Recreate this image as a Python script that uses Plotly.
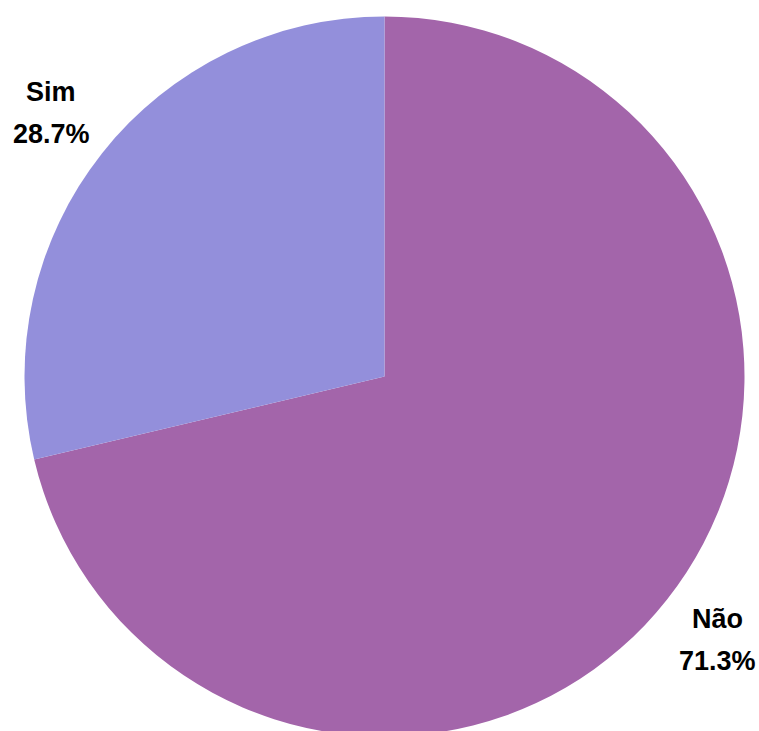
import numpy as np
import plotly.graph_objects as go

labels = ["Não", "Sim"]
values = [71.3, 28.7]
colors = ["#a365aa", "#938fdb"]

W, H = 759, 742  # a little taller than the window: the pie runs off the bottom edge
CX, CY, R = 384.5, 376.5, 360.0  # pie centre and radius, px from top-left
LABEL_R = 1.18 * R  # labels sit outside the pie, at each slice's middle angle

fig = go.Figure(data=go.Pie(
        labels=labels,
        values=values,
        sort=False,
        direction="clockwise",
        rotation=0,
        marker=dict(colors=colors, line=dict(width=0)),
        textinfo="none",
        hoverinfo="label+percent",
        domain=dict(x=[(CX - R) / W, (CX + R) / W],
                    y=[(H - CY - R) / H, (H - CY + R) / H])))

# outside labels, placed at the middle angle of every slice
total = sum(values)
start = 0.0
for lab, val in zip(labels, values):
    mid = np.radians((start + val / 2) / total * 360)
    start += val
    px = CX + LABEL_R * np.sin(mid)
    py = CY - LABEL_R * np.cos(mid)
    for txt, shift in [(lab, 21), (f"{val / total * 100:.1f}%", -21)]:
        fig.add_annotation(
            x=px / W, y=(H - py) / H, xref="paper", yref="paper",
            xanchor="center", yanchor="middle",
            text=f"<b>{txt}</b>", showarrow=False, yshift=shift,
            font=dict(family="Liberation Sans, Arial", size=27, color="black"))

fig.update_layout(
    width=W,
    height=H,
    margin=dict(l=0, r=0, t=0, b=0),
    showlegend=False,
    paper_bgcolor="white",
    plot_bgcolor="white",
)

fig.write_html("out.html", config={"displayModeBar": False},
               post_script="document.body.style.margin='0';document.body.style.overflow='hidden';")
